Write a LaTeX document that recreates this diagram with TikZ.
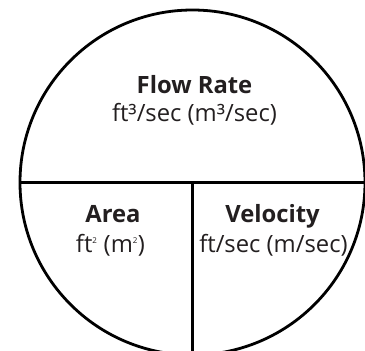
\documentclass[tikz,border=0pt]{standalone}
\usepackage{fontspec}
\setmainfont{Open Sans}
\usepackage{xcolor}
\definecolor{textgray}{HTML}{231F20}

\begin{document}
\begin{tikzpicture}[x = 1pt, y = 1pt]
	\def\r{172.5};
	\def\lw{2.8pt};

	\tikzset{
		title/.style = {anchor = base, font = \fontsize{23.8}{28}\selectfont\bfseries, text = textgray, inner sep = 0},
		unit/.style = {anchor = base, font = \fontsize{23.8}{28}\selectfont, text = textgray, inner sep = 0}
	}

	\useasboundingbox (-192.5,-168.5) rectangle (172.5,182.5);

	\begin{scope}
		\clip (-192.5,-168.5) rectangle (172.5,182.5);
		\coordinate (c) at (0,0);
		\coordinate (w) at (-\r,0);
		\coordinate (e) at (\r,0);
		\coordinate (s) at (0,-\r);
		\draw [line width = \lw] (c) circle (\r);
		\draw [line width = \lw] (w) -- (e);
		\draw [line width = \lw] (c) -- (s);
	\end{scope}

	\begin{scope}
		\node [title] (flowtitle) at (2,88.5) {Flow Rate};
		\node [unit] (flowunit) at (2,61) {ft³/sec (m³/sec)};
		\node [title] (areatitle) at (-79.5,-40.5) {Area};
		\node [unit] (areaunit) at (-82,-70) {ft\textsuperscript{\footnotesize 2} (m\textsuperscript{\footnotesize 2})};
		\node [title] (veltitle) at (80,-40.5) {Velocity};
		\node [unit] (velunit) at (81,-70) {ft/sec (m/sec)};
	\end{scope}
\end{tikzpicture}
\end{document}
